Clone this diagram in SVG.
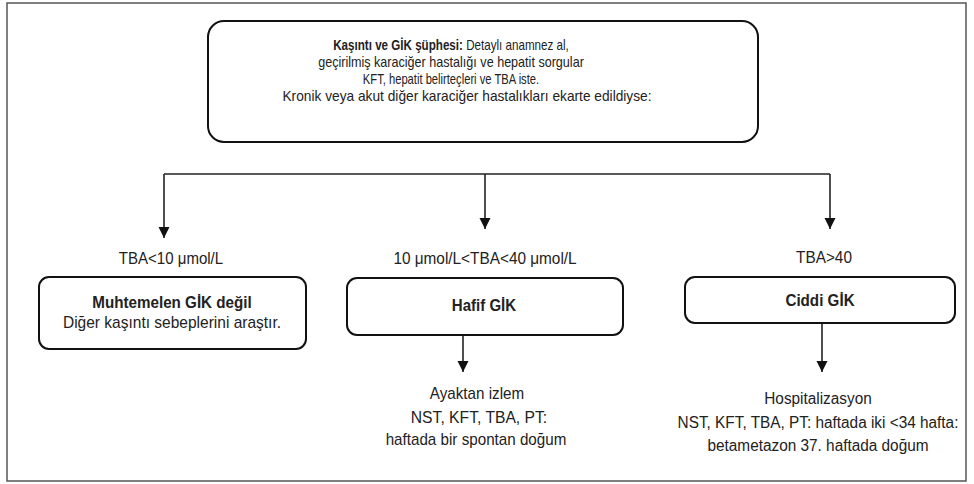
<svg xmlns="http://www.w3.org/2000/svg" width="974" height="484" viewBox="0 0 974 484">
<style>
  .t{font-family:"Liberation Sans",Arial,sans-serif;font-size:16px;fill:#222;text-anchor:middle}
  .s{font-size:14px}
  .b{font-weight:bold}
  .box{fill:#fff;stroke:#111;stroke-width:2}
  .ln{fill:none;stroke:#222;stroke-width:1.6}
</style>
<defs>
  <marker id="ah" markerUnits="userSpaceOnUse" markerWidth="12" markerHeight="12" viewBox="0 0 12 12" refX="11" refY="6" orient="auto">
    <path d="M0,0.5 L11,6 L0,11.5 Z" fill="#111"/>
  </marker>
</defs>
<rect x="7" y="3" width="959" height="478" fill="#fff" stroke="#555" stroke-width="1.5"/>

<g id="connectors">
  <path class="ln" d="M164,174 H830"/>
  <path class="ln" d="M164,174 V238" marker-end="url(#ah)"/>
  <path class="ln" d="M485,174 V229" marker-end="url(#ah)"/>
  <path class="ln" d="M830,174 V229" marker-end="url(#ah)"/>
  <path class="ln" d="M463,335 V372" marker-end="url(#ah)"/>
  <path class="ln" d="M822,323 V372" marker-end="url(#ah)"/>
</g>

<g id="top">
  <rect class="box" x="208" y="21" width="550" height="121" rx="16"/>
  <text class="t s" transform="translate(451,50) scale(0.83,1)"><tspan class="b">Kaşıntı ve GİK şüphesi:</tspan> Detaylı anamnez al,</text>
  <text class="t s" transform="translate(451,67) scale(0.9,1)">geçirilmiş karaciğer hastalığı ve hepatit sorgular</text>
  <text class="t s" transform="translate(451,84) scale(0.8,1)">KFT, hepatit belirteçleri ve TBA iste.</text>
  <text class="t s" transform="translate(467,101) scale(0.98,1)">Kronik veya akut diğer karaciğer hastalıkları ekarte edildiyse:</text>
</g>

<g id="labels">
  <text class="t" transform="translate(171,264) scale(0.94,1)">TBA&lt;10 μmol/L</text>
  <text class="t" transform="translate(485,264) scale(0.96,1)">10 μmol/L&lt;TBA&lt;40 μmol/L</text>
  <text class="t" transform="translate(824,263) scale(0.96,1)">TBA&gt;40</text>
</g>

<g id="muhtemelen">
  <rect class="box" x="39" y="277" width="267" height="72" rx="10"/>
  <text class="t b" transform="translate(172,308) scale(0.95,1)">Muhtemelen GİK değil</text>
  <text class="t" transform="translate(172,328) scale(0.97,1)">Diğer kaşıntı sebeplerini araştır.</text>
</g>

<g id="hafif">
  <rect class="box" x="347" y="278" width="276" height="57" rx="10"/>
  <text class="t b" transform="translate(484,311) scale(0.94,1)">Hafif GİK</text>
</g>

<g id="ciddi">
  <rect class="box" x="685" y="277" width="270" height="46" rx="10"/>
  <text class="t b" transform="translate(820,306) scale(0.95,1)">Ciddi GİK</text>
</g>

<g id="ayaktan">
  <text class="t" transform="translate(477,399) scale(0.95,1)">Ayaktan izlem</text>
  <text class="t" transform="translate(479,423) scale(0.98,1)">NST, KFT, TBA, PT:</text>
  <text class="t" transform="translate(476,445) scale(0.95,1)">haftada bir spontan doğum</text>
</g>

<g id="hospitalizasyon">
  <text class="t" transform="translate(818,404) scale(0.96,1)">Hospitalizasyon</text>
  <text class="t" transform="translate(818,428) scale(0.96,1)">NST, KFT, TBA, PT: haftada iki &lt;34 hafta:</text>
  <text class="t" transform="translate(818,451) scale(0.96,1)">betametazon 37. haftada doğum</text>
</g>
</svg>
